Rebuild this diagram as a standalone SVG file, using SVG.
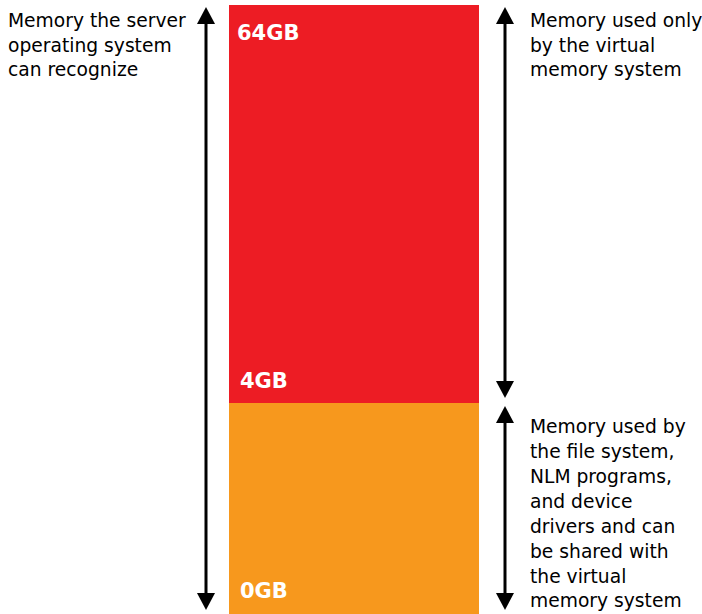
<svg xmlns="http://www.w3.org/2000/svg" width="702" height="614" viewBox="0 0 702 614">
<defs>
<style>
.lbl{font-family:"DejaVu Sans","Liberation Sans",sans-serif;font-size:18.7px;fill:#000}
.gb{font-family:"DejaVu Sans","Liberation Sans",sans-serif;font-size:21px;font-weight:bold;fill:#fff}
.ln{stroke:#000;stroke-width:3;fill:none}
.hd{fill:#000}
</style>
</defs>
<rect width="702" height="614" fill="#fff"/>
<g id="upper-memory">
<rect x="229" y="5" width="250" height="398" fill="#ED1C24"/>
<text class="gb" x="237" y="40">64GB</text>
<text class="gb" x="240" y="388">4GB</text>
</g>
<g id="lower-memory">
<rect x="229" y="403" width="250" height="211" fill="#F7981D"/>
<text class="gb" x="240" y="598">0GB</text>
</g>
<g id="connectors">
<line class="ln" x1="206" y1="20" x2="206" y2="596"/>
<polygon class="hd" points="206,7 197,24 215,24"/>
<polygon class="hd" points="206,610 197,593 215,593"/>
<line class="ln" x1="505" y1="20" x2="505" y2="385"/>
<polygon class="hd" points="505,7 496,24 514,24"/>
<polygon class="hd" points="505,398 496,381 514,381"/>
<line class="ln" x1="505" y1="420" x2="505" y2="596"/>
<polygon class="hd" points="505,406 496,423 514,423"/>
<polygon class="hd" points="505,610 496,593 514,593"/>
</g>
<g id="label-os">
<text class="lbl" x="8" y="27">Memory the server</text>
<text class="lbl" x="8" y="51.5">operating system</text>
<text class="lbl" x="8" y="76">can recognize</text>
</g>
<g id="label-virtual">
<text class="lbl" x="530" y="27">Memory used only</text>
<text class="lbl" x="530" y="51.5">by the virtual</text>
<text class="lbl" x="530" y="76">memory system</text>
</g>
<g id="label-shared">
<text class="lbl" x="530" y="433">Memory used by</text>
<text class="lbl" x="530" y="458">the file system,</text>
<text class="lbl" x="530" y="483">NLM programs,</text>
<text class="lbl" x="530" y="508">and device</text>
<text class="lbl" x="530" y="533">drivers and can</text>
<text class="lbl" x="530" y="558">be shared with</text>
<text class="lbl" x="530" y="583">the virtual</text>
<text class="lbl" x="530" y="607">memory system</text>
</g>
</svg>
